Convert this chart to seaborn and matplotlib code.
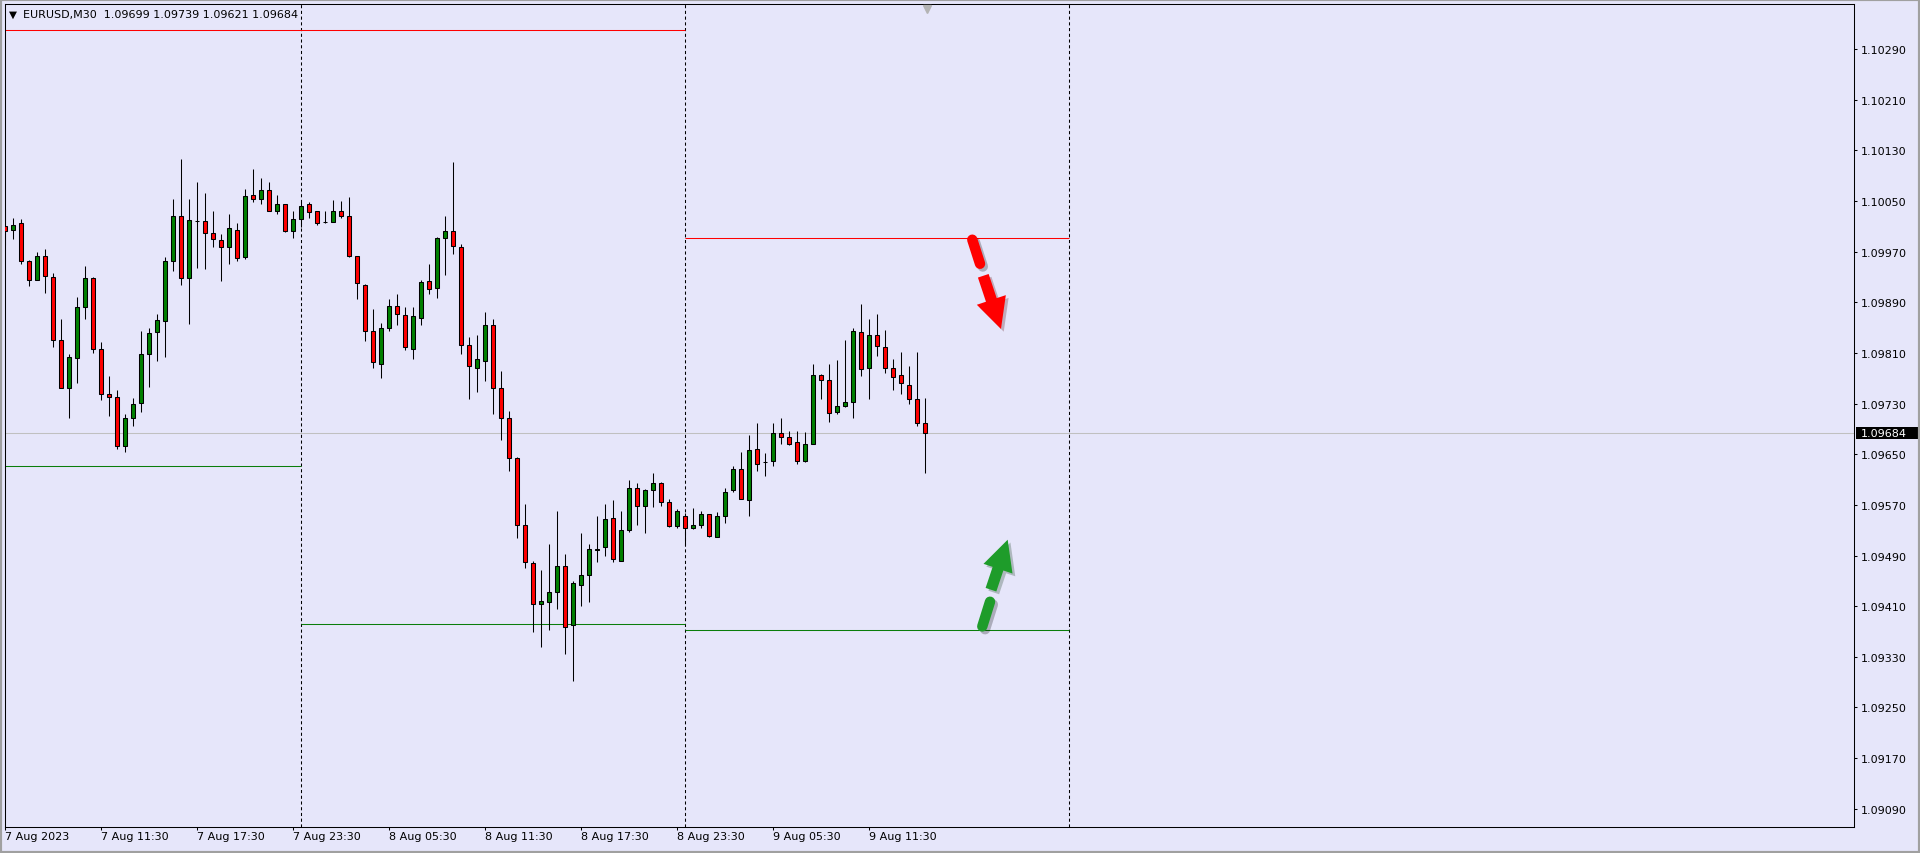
import numpy as np
import pandas as pd
import seaborn as sns
import matplotlib
matplotlib.use("Agg")
import matplotlib.pyplot as plt
from matplotlib import transforms
from matplotlib import patheffects as pe
from matplotlib.patches import FancyArrowPatch, ArrowStyle, Rectangle

# EURUSD M30 candles, 7 Aug 2023 -> 9 Aug 2023 15:00
open_prices = [
    1.10010, 1.10004, 1.10015, 1.09955, 1.09925, 1.09964, 1.09930, 1.09830, 1.09754, 1.09802,
    1.09882, 1.09929, 1.09817, 1.09746, 1.09740, 1.09663, 1.09708, 1.09731, 1.09808, 1.09843,
    1.09860, 1.09956, 1.10026, 1.09928, 1.10019, 1.10018, 1.09999, 1.09988, 1.09977, 1.10005,
    1.09961, 1.10059, 1.10054, 1.10067, 1.10034, 1.10045, 1.10002, 1.10021, 1.10045, 1.10034,
    1.10017, 1.10017, 1.10034, 1.10026, 1.09963, 1.09918, 1.09844, 1.09792, 1.09849, 1.09884,
    1.09870, 1.09817, 1.09866, 1.09923, 1.09912, 1.09991, 1.10002, 1.09977, 1.09822, 1.09786,
    1.09798, 1.09854, 1.09754, 1.09708, 1.09644, 1.09538, 1.09478, 1.09413, 1.09416, 1.09432,
    1.09474, 1.09381, 1.09444, 1.09459, 1.09498, 1.09503, 1.09549, 1.09482, 1.09530, 1.09596,
    1.09568, 1.09594, 1.09604, 1.09574, 1.09536, 1.09553, 1.09533, 1.09538, 1.09555, 1.09520,
    1.09552, 1.09593, 1.09626, 1.09577, 1.09658, 1.09637, 1.09640, 1.09683, 1.09678, 1.09669,
    1.09640, 1.09667, 1.09776, 1.09768, 1.09716, 1.09727, 1.09732, 1.09843, 1.09786, 1.09838,
    1.09819, 1.09786, 1.09775, 1.09760, 1.09738, 1.09699,
]
high_prices = [
    1.10038, 1.10023, 1.10022, 1.09957, 1.09970, 1.09974, 1.09936, 1.09864, 1.09808, 1.09898,
    1.09947, 1.09930, 1.09827, 1.09774, 1.09752, 1.09713, 1.09739, 1.09845, 1.09849, 1.09872,
    1.09962, 1.10053, 1.10117, 1.10053, 1.10080, 1.10063, 1.10034, 1.09998, 1.10030, 1.10015,
    1.10069, 1.10101, 1.10086, 1.10080, 1.10060, 1.10045, 1.10034, 1.10048, 1.10048, 1.10035,
    1.10034, 1.10051, 1.10050, 1.10056, 1.09964, 1.09919, 1.09879, 1.09857, 1.09895, 1.09904,
    1.09882, 1.09882, 1.09925, 1.09950, 1.09993, 1.10027, 1.10111, 1.09982, 1.09835, 1.09839,
    1.09874, 1.09863, 1.09781, 1.09719, 1.09645, 1.09571, 1.09481, 1.09467, 1.09509, 1.09561,
    1.09492, 1.09449, 1.09525, 1.09508, 1.09553, 1.09572, 1.09577, 1.09561, 1.09610, 1.09604,
    1.09595, 1.09620, 1.09606, 1.09579, 1.09563, 1.09557, 1.09565, 1.09560, 1.09556, 1.09558,
    1.09596, 1.09632, 1.09653, 1.09680, 1.09700, 1.09652, 1.09699, 1.09707, 1.09686, 1.09686,
    1.09685, 1.09792, 1.09777, 1.09792, 1.09799, 1.09830, 1.09849, 1.09887, 1.09863, 1.09871,
    1.09847, 1.09800, 1.09811, 1.09790, 1.09811, 1.09739,
]
low_prices = [
    1.09980, 1.09990, 1.09950, 1.09916, 1.09925, 1.09905, 1.09820, 1.09754, 1.09708, 1.09763,
    1.09863, 1.09810, 1.09735, 1.09711, 1.09659, 1.09654, 1.09694, 1.09717, 1.09757, 1.09798,
    1.09804, 1.09940, 1.09917, 1.09856, 1.09945, 1.09942, 1.09978, 1.09923, 1.09950, 1.09955,
    1.09958, 1.10048, 1.10045, 1.10034, 1.10029, 1.10001, 1.09992, 1.10009, 1.10023, 1.10013,
    1.10015, 1.10017, 1.10023, 1.09962, 1.09896, 1.09829, 1.09787, 1.09770, 1.09845, 1.09854,
    1.09814, 1.09800, 1.09854, 1.09903, 1.09897, 1.09934, 1.09967, 1.09808, 1.09738, 1.09749,
    1.09765, 1.09713, 1.09672, 1.09623, 1.09518, 1.09471, 1.09369, 1.09346, 1.09372, 1.09405,
    1.09335, 1.09291, 1.09410, 1.09416, 1.09479, 1.09490, 1.09479, 1.09481, 1.09527, 1.09538,
    1.09525, 1.09566, 1.09569, 1.09535, 1.09533, 1.09506, 1.09532, 1.09533, 1.09520, 1.09519,
    1.09542, 1.09591, 1.09579, 1.09553, 1.09623, 1.09615, 1.09632, 1.09667, 1.09664, 1.09634,
    1.09638, 1.09666, 1.09738, 1.09701, 1.09713, 1.09724, 1.09708, 1.09773, 1.09738, 1.09806,
    1.09779, 1.09751, 1.09746, 1.09730, 1.09694, 1.09621,
]
close_prices = [
    1.10003, 1.10013, 1.09955, 1.09925, 1.09964, 1.09931, 1.09830, 1.09755, 1.09803, 1.09882,
    1.09928, 1.09817, 1.09746, 1.09740, 1.09663, 1.09708, 1.09730, 1.09808, 1.09841, 1.09862,
    1.09955, 1.10026, 1.09928, 1.10020, 1.10019, 1.09999, 1.09990, 1.09978, 1.10007, 1.09960,
    1.10058, 1.10054, 1.10067, 1.10034, 1.10045, 1.10002, 1.10021, 1.10043, 1.10032, 1.10016,
    1.10017, 1.10034, 1.10027, 1.09964, 1.09920, 1.09844, 1.09795, 1.09849, 1.09884, 1.09871,
    1.09819, 1.09868, 1.09922, 1.09911, 1.09991, 1.10002, 1.09979, 1.09822, 1.09789, 1.09800,
    1.09854, 1.09754, 1.09708, 1.09644, 1.09538, 1.09479, 1.09414, 1.09418, 1.09433, 1.09474,
    1.09377, 1.09446, 1.09459, 1.09500, 1.09501, 1.09547, 1.09484, 1.09530, 1.09596, 1.09569,
    1.09594, 1.09604, 1.09574, 1.09536, 1.09560, 1.09533, 1.09539, 1.09555, 1.09521, 1.09553,
    1.09591, 1.09626, 1.09579, 1.09656, 1.09634, 1.09637, 1.09683, 1.09678, 1.09667, 1.09639,
    1.09667, 1.09776, 1.09768, 1.09715, 1.09727, 1.09732, 1.09844, 1.09785, 1.09838, 1.09821,
    1.09787, 1.09772, 1.09762, 1.09738, 1.09699, 1.09684,
]

# time axis labels (bar index -> label)
tick_bars = [0, 12, 24, 36, 48, 60, 72, 84, 96, 108]
tick_labels = ["7 Aug 2023", "7 Aug 11:30", "7 Aug 17:30", "7 Aug 23:30", "8 Aug 05:30",
               "8 Aug 11:30", "8 Aug 17:30", "8 Aug 23:30", "9 Aug 05:30", "9 Aug 11:30"]
price_ticks = [1.09090, 1.09170, 1.09250, 1.09330, 1.09410, 1.09490, 1.09570, 1.09650,
               1.09730, 1.09810, 1.09890, 1.09970, 1.10050, 1.10130, 1.10210, 1.10290]

# day separators (bar index of 00:00)
day_starts = [37, 85, 133]

# previous day high / low levels
level_start = [-1, -1, 37, 85, 85]
level_end = [85, 37, 85, 133, 133]
level_price = [1.10320, 1.09632, 1.09382, 1.09991, 1.09372]
level_kind = ["high", "low", "low", "high", "low"]

df = pd.DataFrame({"open": open_prices, "high": high_prices,
                   "low": low_prices, "close": close_prices})
df["bar"] = np.arange(len(df))

sns.set_style("white", {"axes.facecolor": "#E6E6FA", "figure.facecolor": "#E6E6FA",
                        "axes.edgecolor": "black"})
plt.rcParams["font.family"] = ["DejaVu Sans"]

fig = plt.figure(figsize=(19.2, 8.54), dpi=100)
ax = fig.add_axes([5 / 1920, 26 / 854, 1849 / 1920, 823 / 854])

lw = 0.75
bull = df["close"] > df["open"]
bear = df["close"] < df["open"]
body_colors = np.where(bull, "#008000", np.where(bear, "#ff0000", "none"))

# wicks then bodies
ax.vlines(df["bar"], df["low"], df["high"], colors="black", lw=lw, zorder=3)
ax.bar(df["bar"], (df["close"] - df["open"]).abs(), bottom=df[["open", "close"]].min(axis=1),
       width=0.5, color=body_colors, edgecolor="black", linewidth=lw, zorder=4)

# current bid line
last = df["close"].iloc[-1]
ax.axhline(last, color="#c0c0c0", lw=lw, zorder=1)

# period separators
for d in day_starts:
    ax.axvline(d, color="black", lw=lw, linestyle=(0, (3, 2.5)), zorder=2)

# levels
for s, e, p, k in zip(level_start, level_end, level_price, level_kind):
    ax.hlines(p, s, e, colors="#ff0000" if k == "high" else "#0a7d0a", lw=lw, zorder=2)

ax.set_xlim(-0.0375, 231.09)
ax.set_ylim(1.090611, 1.103614)

ax.yaxis.tick_right()
ax.set_yticks(price_ticks)
ax.set_yticklabels([f"{v:.5f}" for v in price_ticks])
ax.tick_params(axis="y", direction="out", length=2, width=lw, pad=3, labelsize=8,
               colors="black", left=False, right=True)
ax.set_xticks(tick_bars)
ax.set_xticklabels(tick_labels)
for lbl in ax.get_xticklabels():
    lbl.set_ha("left")
ax.tick_params(axis="x", direction="out", length=2, width=lw, pad=1, labelsize=8,
               colors="black", bottom=True)
for sp in ax.spines.values():
    sp.set_color("black")
    sp.set_linewidth(lw)

# bid price box on the price scale
trans = transforms.blended_transform_factory(ax.transAxes, ax.transData)
ax.add_patch(Rectangle((1.00108, last - 0.000095), 0.03353, 0.00019, transform=trans,
                       facecolor="black", edgecolor="none", clip_on=False, zorder=5))
ax.text(1.00362, last, f"{last:.5f}", transform=trans, color="white", fontsize=8,
        va="center", ha="left", clip_on=False, zorder=6)

# chart shift marker
trans_top = transforms.blended_transform_factory(ax.transData, ax.transAxes)
ax.plot([115.2], [0.994], transform=trans_top, marker="v", ms=6, color="#b4b4b4",
        clip_on=False, zorder=6)


# dashed arrows drawn by hand on the chart
def dashed_arrow(dash_a, dash_b, head_a, tip, color):
    shadow = [pe.SimpleLineShadow(offset=(2, -2), alpha=0.25), pe.Normal()]
    ax.plot([dash_a[0], dash_b[0]], [dash_a[1], dash_b[1]], color=color, lw=7.5,
            solid_capstyle="round", zorder=7, path_effects=shadow)
    arr = FancyArrowPatch(head_a, tip, arrowstyle=ArrowStyle.Simple(head_length=1.0, head_width=1.0,
                                                                     tail_width=0.37),
                          mutation_scale=22, color=color, lw=0, shrinkA=0, shrinkB=0, zorder=7,
                          path_effects=[pe.SimplePatchShadow(offset=(2, -2), alpha=0.25), pe.Normal()])
    ax.add_patch(arr)


dashed_arrow((120.875, 1.09989), (121.84, 1.09951), (122.25, 1.09932), (124.46, 1.09848), "#ff0000")
dashed_arrow((122.125, 1.09378), (123.09, 1.09417), (123.21, 1.09436), (125.3, 1.09515), "#1e9c2a")

# header
fig.text(13 / 1920, 1 - 15 / 854, "\u25bc", fontsize=7.5, ha="center", va="center", color="black")
fig.text(23 / 1920, 1 - 15 / 854,
         f"EURUSD,M30  {df['open'].iloc[-1]:.5f} {df['high'].iloc[-1]:.5f} "
         f"{df['low'].iloc[-1]:.5f} {df['close'].iloc[-1]:.5f}",
         fontsize=8, ha="left", va="center", color="black")

# window frame
fig.add_artist(Rectangle((0, 0), 1, 1, transform=fig.transFigure, fill=False,
                         edgecolor="#a0a0a0", lw=3))

fig.savefig("out.png", dpi=100, facecolor=fig.get_facecolor())
